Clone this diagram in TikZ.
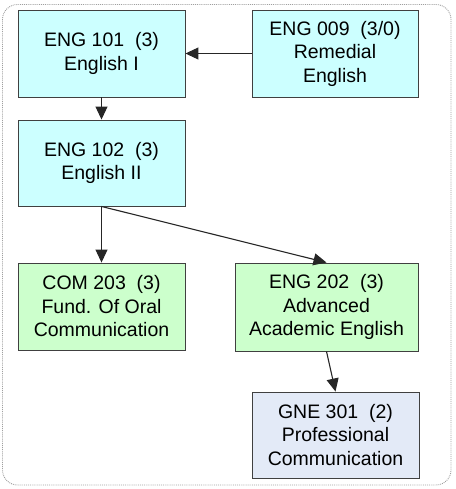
\documentclass[tikz,border=0pt]{standalone}
\usepackage{fontspec}
\setmainfont{Liberation Sans}
\usetikzlibrary{arrows.meta}
\definecolor{cyanbox}{HTML}{CCFFFF}
\definecolor{greenbox}{HTML}{CCFFCC}
\definecolor{greybox}{HTML}{E3EAF7}
\definecolor{edgegrey}{HTML}{404040}
\tikzset{
  course/.style={draw=edgegrey, line width=0.9pt, rectangle, align=center, inner sep=0pt,
    font=\fontsize{19.5}{23.5}\selectfont},
  link/.style={draw=black!85, line width=1.1pt, -{Triangle[length=13pt,width=12pt]}},
  frame/.style={draw=gray!75, densely dotted, line width=0.9pt, rounded corners=15pt}
}
\begin{document}
\begin{tikzpicture}[x=1pt,y=1pt]
\useasboundingbox (0,0) rectangle (455,-489);
\draw[frame] (2.5,-4.5) rectangle (451,-485);
\node[course, fill=cyanbox, minimum width=167pt, minimum height=87pt] (e101) at (101.5,-53.5) {ENG 101\ \ (3)\\English I};
\node[course, fill=cyanbox, minimum width=166pt, minimum height=87pt] (e009) at (335,-53.5) {ENG 009\ \ (3/0)\\Remedial\\English};
\node[course, fill=cyanbox, minimum width=167pt, minimum height=86pt] (e102) at (101.5,-163) {ENG 102\ \ (3)\\English II};
\node[course, fill=greenbox, minimum width=167pt, minimum height=87pt] (c203) at (101.5,-306.5) {COM 203\ \ (3)\\Fund. Of Oral\\Communication};
\node[course, fill=greenbox, minimum width=183pt, minimum height=88pt] (e202) at (326.5,-307) {ENG 202\ \ (3)\\Advanced\\Academic English};
\node[course, fill=greybox, minimum width=167pt, minimum height=86pt] (g301) at (335.5,-435) {GNE 301\ \ (2)\\Professional\\Communication};
\draw[link] (e009.west) -- (e101.east);
\draw[link] (e101.south) -- (e102.north);
\draw[link] (e102.south) -- (c203.north);
\draw[link] (e102.south) -- (e202.north);
\draw[link] (e202.south) -- (g301.north);
\end{tikzpicture}
\end{document}
